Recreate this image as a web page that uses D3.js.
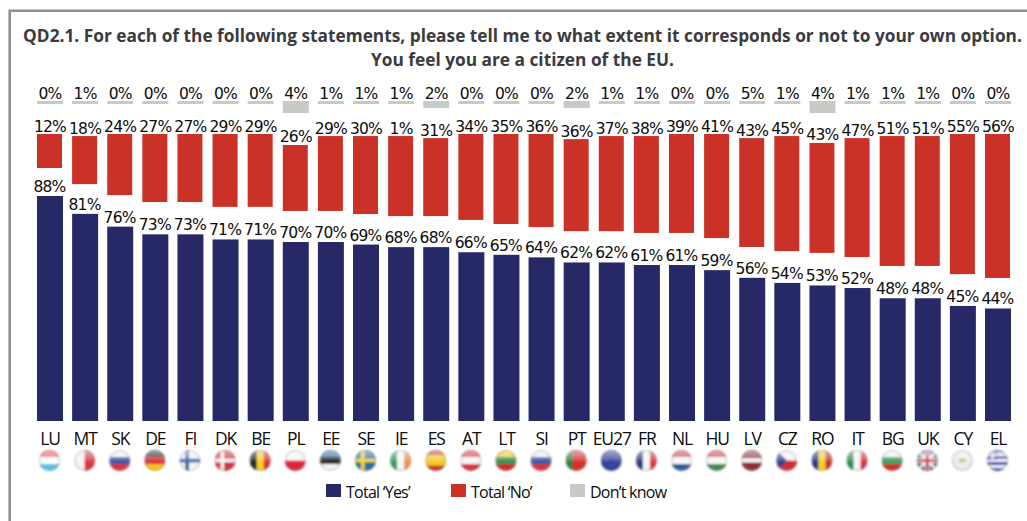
<!DOCTYPE html>
<html><head><meta charset="utf-8">
<script src="https://cdn.jsdelivr.net/npm/d3@7"></script>
<style>
html,body{margin:0;padding:0;background:#fff;overflow:hidden}
svg{display:block}
.v{font-family:"DejaVu Sans",sans-serif;font-size:15.5px;letter-spacing:-.75px;fill:#0c0c0c;text-anchor:middle}
.c{font-family:"Open Sans",sans-serif;font-size:17.5px;letter-spacing:-1.1px;fill:#0c0c0c;text-anchor:middle}
.l{font-family:"Open Sans",sans-serif;font-size:16px;letter-spacing:-.75px;fill:#0c0c0c}
.t{font-family:"Open Sans",sans-serif;font-weight:700;font-size:17.3px;fill:#3b3b3d;text-anchor:middle}
</style></head><body>
<script>
const titleLines = ["QD2.1. For each of the following statements, please tell me to what extent it corresponds or not to your own option.",
                    "You feel you are a citizen of the EU."];
const countries = ["LU","MT","SK","DE","FI","DK","BE","PL","EE","SE","IE","ES","AT","LT","SI","PT","EU27","FR","NL","HU","LV","CZ","RO","IT","BG","UK","CY","EL"];
// Total 'Yes'
const yesValues = [88,81,76,73,73,71,71,70,70,69,68,68,66,65,64,62,62,61,61,59,56,54,53,52,48,48,45,44];
// Total 'No' : printed labels, and the lengths the bars are drawn with in the picture
const noLabels  = [12,18,24,27,27,29,29,26,29,30,1,31,34,35,36,36,37,38,39,41,43,45,43,47,51,51,55,56];
const noBars    = [13.3,18.8,23.9,26.6,26.6,28.5,28.5,25.8,29.3,30.5,31.3,30.5,33.6,35.2,36.4,36,37.2,37.9,38.7,40.7,42.6,45,43,46.5,50.8,50.8,54.8,56.3];
// how far each red bar starts below the top of the red row, in the same units
const noDrop    = [0,.8,0,0,0,0,0,4.3,.8,.8,.8,1.6,0,0,0,2,.8,.8,0,0,1.6,.8,3.5,1.6,.8,.8,0,0];
// Don't know : printed labels, and drawn lengths
const dkLabels  = [0,1,0,0,0,0,0,4,1,1,1,2,0,0,0,2,1,1,0,0,5,1,4,1,1,1,0,0];
const dkBars    = [0,1,0,0,0,0,0,4.7,1,1,1,2.7,0,0,0,2.7,1,1,0,0,1,1,4.7,1,1,1,0,0];
const legendLabels = ["Total ‘Yes’","Total ‘No’","Don’t know"];
const seriesColours = ["#272967","#cb3227","#c9c9c7"];
// flags: direction, stripes, optional cross
const flags = {
 LU:["h",["#e8505b","#ffffff","#5cc0e8"]], MT:["v",["#f4f4f4","#d8303c"]], SK:["h",["#f2f2f2","#2c4fa0","#d8303c"]],
 DE:["h",["#222222","#d8202c","#f4c020"]], FI:["c",["#f4f4f4","#2a5aa0"]], DK:["c",["#d0303c","#f4f4f4"]],
 BE:["v",["#1c1c1c","#f4d020","#dc2830"]], PL:["h",["#f6f6f6","#dc2038"]], EE:["h",["#2a6aa8","#1a1a1a","#f4f4f4"]],
 SE:["c",["#2a6aa0","#f0d020"]], IE:["v",["#2f9a58","#f6f6f6","#f09040"]], ES:["h",["#cc2a20","#f4c820","#f4c820","#cc2a20"]],
 AT:["h",["#d8303c","#f6f6f6","#d8303c"]], LT:["h",["#f0c820","#2a8a48","#c82a30"]], SI:["h",["#f2f2f2","#2c4fa0","#d8303c"]],
 PT:["v",["#2a7a40","#d82a2a","#d82a2a"]], EU27:["h",["#2e3a98"]], FR:["v",["#24307c","#f6f6f6","#dc2a38"]],
 NL:["h",["#c8404c","#f6f6f6","#2f5a98"]], HU:["h",["#d03a40","#f6f6f6","#3a8a50"]], LV:["h",["#8c2a38","#8c2a38","#f4f4f4","#8c2a38","#8c2a38"]],
 CZ:["t",["#f4f4f4","#d02a38","#23408c"]], RO:["v",["#202f80","#f4d020","#d0282c"]], IT:["v",["#2a8a48","#f6f6f6","#d0303c"]],
 BG:["h",["#f4f4f4","#2f9a58","#d02a2a"]], UK:["u",["#2a3a78","#f4f4f4","#c8303c"]], CY:["h",["#eeeee8"]],
 EL:["g",["#3a48a8","#f0f0f8"]]
};

const W=1027,H=521;
const svg=d3.select("body").append("svg").attr("width",W).attr("height",H);
const defs=svg.append("defs");
defs.append("filter").attr("id","soft").attr("x","-5%").attr("y","-30%").attr("width","110%").attr("height","160%").append("feGaussianBlur").attr("stdDeviation",.8);
const gl=defs.append("radialGradient").attr("id","gloss").attr("cx","50%").attr("cy","50%").attr("r","50%");
[[0,"#fff",0],[.72,"#fff",0],[1,"#333",.4]].forEach(s=>gl.append("stop").attr("offset",s[0]).attr("stop-color",s[1]).attr("stop-opacity",s[2]));
const gt=defs.append("linearGradient").attr("id","top").attr("x1",0).attr("x2",0).attr("y1",0).attr("y2",1);
[[0,.6],[.42,.25],[.6,0]].forEach(s=>gt.append("stop").attr("offset",s[0]).attr("stop-color","#fff").attr("stop-opacity",s[1]));

// frame
svg.append("path").attr("d",d3.line()([[9.7,H],[9.7,10.7],[W,10.7]])).attr("fill","none").attr("stroke","#978d90").attr("stroke-width",2.6);

// title
svg.selectAll("text.t").data(titleLines).join("text").attr("class","t").attr("x",522.5).attr("y",(d,i)=>i?66:42).text(d=>d);

// scales
const x=d3.scaleBand().domain(countries).range([37,1011]).paddingInner(.2595).paddingOuter(0).align(0);
const k=2.557;
const yYes=d3.scaleLinear().domain([0,100]).range([421,421-100*k]);
const yNo=d3.scaleLinear().domain([0,100]).range([134,134+100*k]);
const yDk=d3.scaleLinear().domain([0,10]).range([101,101+10*k]);
const rows=countries.map((c,i)=>({c,yes:yesValues[i],noL:noLabels[i],no:noBars[i],drop:noDrop[i],dkL:dkLabels[i],dk:dkBars[i]}));
const bw=x.bandwidth();

// yes
const g=svg.append("g");
g.selectAll("rect.y").data(rows).join("rect").attr("class","y").attr("x",d=>x(d.c)).attr("width",bw)
 .attr("y",d=>yYes(d.yes)).attr("height",d=>yYes(0)-yYes(d.yes)).attr("fill",seriesColours[0]);
g.selectAll("text.yl").data(rows).join("text").attr("class","v yl").attr("x",d=>x(d.c)+bw/2-.5)
 .attr("y",d=>yYes(d.yes)-4).text(d=>d.yes+"%");
// no
g.selectAll("rect.n").data(rows).join("rect").attr("class","n").attr("x",d=>x(d.c)).attr("width",bw-1)
 .attr("y",d=>yNo(d.drop)).attr("height",d=>yNo(d.drop+d.no)-yNo(d.drop)).attr("fill",seriesColours[1]);
g.selectAll("text.nl").data(rows).join("text").attr("class","v nl").attr("x",d=>x(d.c)+bw/2)
 .attr("y",d=>yNo(d.drop)-2.5).text(d=>d.noL+"%");
// don't know
g.selectAll("rect.d").data(rows).join("rect").attr("class","d").attr("x",d=>x(d.c)).attr("width",bw)
 .attr("y",yDk(0)).attr("height",d=>Math.max(3,yDk(d.dk)-yDk(0))).attr("fill",seriesColours[2]);
g.selectAll("text.dl").data(rows).join("text").attr("class","v dl").attr("x",d=>x(d.c)+bw/2)
 .attr("y",yDk(0)-2.5).text(d=>d.dkL+"%");

// country names
svg.append("g").selectAll("text").data(countries).join("text").attr("class","c")
 .attr("x",c=>x(c)+bw/2).attr("y",444.5).text(c=>c);

// flags
const R=10.5, fy=460.5;
const fg=svg.append("g").attr("filter","url(#soft)");
countries.forEach((c,i)=>{
  const cx=x(c)+bw/2-.5;
  const [kind,cols]=flags[c];
  const id="f"+i;
  defs.append("clipPath").attr("id",id).append("circle").attr("r",R);
  const f=fg.append("g").attr("transform",`translate(${cx},${fy})`).attr("clip-path",`url(#${id})`);
  const rect=(a,b,w,h,col)=>f.append("rect").attr("x",a).attr("y",b).attr("width",w).attr("height",h).attr("fill",col);
  if(kind==="h"||kind==="v"||kind==="t"){
    const s=d3.scaleBand().domain(d3.range(kind==="t"?2:cols.length)).range([-R,R]);
    s.domain().forEach(j=>{
      if(kind==="v") rect(s(j),-R,s.bandwidth()+.3,2*R,cols[j]);
      else rect(-R,s(j),2*R,s.bandwidth()+.3,cols[j]);
    });
    if(kind==="t") f.append("path").attr("d",d3.line()([[-R,-R],[0,0],[-R,R]])).attr("fill",cols[2]);
  } else if(kind==="c"){
    rect(-R,-R,2*R,2*R,cols[0]);
    rect(-R,-1.8,2*R,3.6,cols[1]); rect(-4.5,-R,3.6,2*R,cols[1]);
  } else if(kind==="u"){
    rect(-R,-R,2*R,2*R,cols[0]);
    [[-R,-R,R,R],[-R,R,R,-R]].forEach(p=>f.append("line").attr("x1",p[0]).attr("y1",p[1]).attr("x2",p[2]).attr("y2",p[3]).attr("stroke",cols[1]).attr("stroke-width",3));
    rect(-R,-2.5,2*R,5,cols[1]); rect(-2.5,-R,5,2*R,cols[1]);
    rect(-R,-1.4,2*R,2.8,cols[2]); rect(-1.4,-R,2.8,2*R,cols[2]);
  } else if(kind==="g"){
    const s=d3.scaleBand().domain(d3.range(7)).range([-R,R]);
    s.domain().forEach(j=>rect(-R,s(j),2*R,s.bandwidth()+.2,cols[j%2]));
    rect(-R,-R,R,R-1,cols[0]); rect(-R,-6.4,R,2,cols[1]); rect(-6,-R,2,R-1,cols[1]);
  }
  f.append("circle").attr("r",R).attr("fill","url(#top)");
  f.append("circle").attr("r",R).attr("fill","url(#gloss)");
  if(c==="CY") f.append("ellipse").attr("rx",4).attr("ry",2).attr("fill","#c8c89a");
  if(c==="EU27") f.append("circle").attr("r",5).attr("fill","none").attr("stroke","#8a8ad0").attr("stroke-width",1).attr("stroke-dasharray","1.2 1.4");
});

// legend
const lx=d3.scaleOrdinal().domain(legendLabels).range([326,451,570]);
const lg=svg.append("g");
lg.selectAll("rect").data(legendLabels).join("rect").attr("x",d=>lx(d)).attr("y",484).attr("width",15).attr("height",13)
  .attr("fill",(d,i)=>seriesColours[i]);
lg.selectAll("text").data(legendLabels).join("text").attr("class","l").attr("x",d=>lx(d)+20).attr("y",497.5).text(d=>d);
</script>
</body></html>
